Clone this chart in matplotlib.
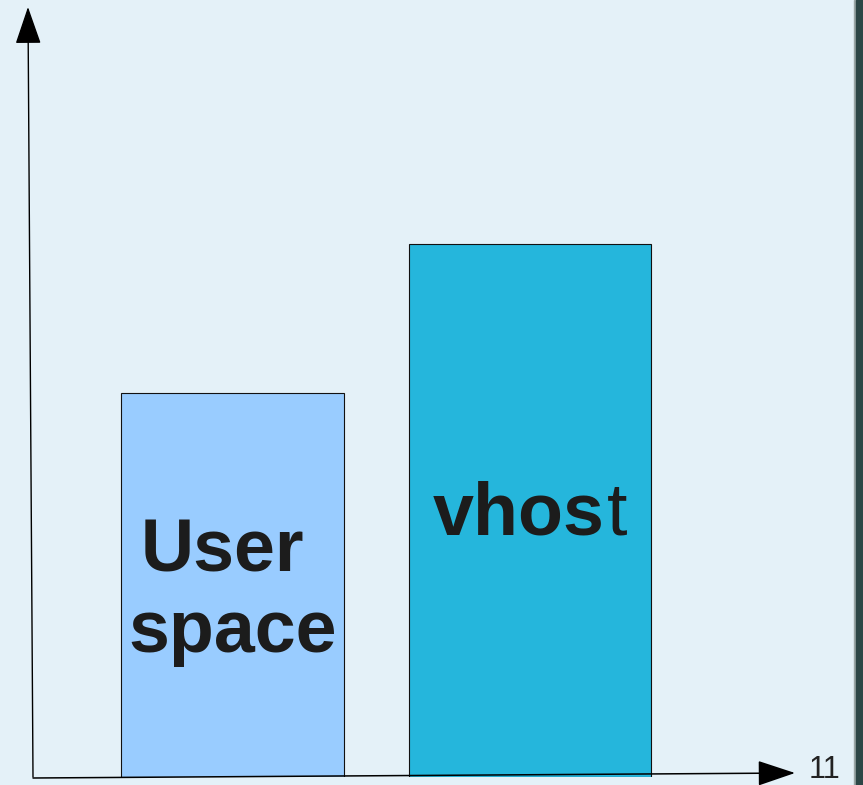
import matplotlib
matplotlib.use("Agg")
import matplotlib.pyplot as plt
from matplotlib.patches import Rectangle, ArrowStyle

# ---- data ----
categories = ["User\nspace", "vhost"]
values = [49.9, 69.2]
x_tick_label = "11"

# ---- style / layout ----
W, H, DPI = 863, 785, 100
bg = "#E4F1F8"
bar_colors = ["#99CCFF", "#25B6DC"]
text_color = "#1C1C1C"
centers = [26.18, 65.22]
widths = [29.27, 31.76]

fig = plt.figure(figsize=(W / DPI, H / DPI), dpi=DPI, facecolor=bg)
ax = fig.add_axes([33 / W, 8 / H, 762 / W, 770 / H])
ax.set_facecolor(bg)
ax.set_xlim(0, 100)
ax.set_ylim(0, 100)
for s in ax.spines.values():
    s.set_visible(False)
ax.set_xticks([])
ax.set_yticks([])

ax.bar(centers, values, width=widths, color=bar_colors, edgecolor="#111111",
       linewidth=0.8, zorder=2)

# axes arrows
ms = 20
head = ArrowStyle("-|>", head_length=1.19, head_width=0.41)
ax.annotate("", xy=(-0.0066, 1.0), xytext=(0.0, 0.0), xycoords="axes fraction",
            arrowprops=dict(arrowstyle=head, mutation_scale=ms, color="black",
                            lw=1.0, shrinkA=0, shrinkB=0), annotation_clip=False)
head2 = ArrowStyle("-|>", head_length=1.19, head_width=0.40)
ax.annotate("", xy=(1.0, 0.0052), xytext=(0.0, -0.0013), xycoords="axes fraction",
            arrowprops=dict(arrowstyle=head2, mutation_scale=ms, color="black",
                            lw=1.1, shrinkA=0, shrinkB=0), annotation_clip=False)

# tick label at the end of x axis
ax.annotate(x_tick_label, xy=(1.0, 0.0), xycoords="axes fraction",
            xytext=(10, -0.5), textcoords="offset points", ha="left", va="baseline",
            fontsize=22, color="#222222", family="Liberation Sans",
            annotation_clip=False)

# bar labels
fs = 53
# User space (two lines)
line1, line2 = categories[0].split("\n")
ax.annotate(line1, xy=(centers[0], 26.75), xytext=(-7, 0), textcoords="offset points",
            ha="center", va="baseline", fontsize=fs, fontweight="bold",
            family="Liberation Sans", color=text_color, zorder=3)
ax.text(centers[0], 16.2, line2, ha="center", va="baseline", fontsize=fs,
        fontweight="bold", family="Liberation Sans", color=text_color, zorder=3)

# vhost: "vhos" bold, "t" regular
lbl = categories[1]
t_main = ax.annotate(lbl[:-1], xy=(centers[1], 31.43), xytext=(-8, 0),
                     textcoords="offset points", ha="center", va="baseline",
                     fontsize=fs, fontweight="bold", family="Liberation Sans",
                     color=text_color, zorder=3)
ax.annotate(lbl[-1], xy=(1.0, 31.43), xycoords=(t_main, "data"),
            xytext=(1.5, 0), textcoords="offset points",
            ha="left", va="baseline", fontsize=fs, fontweight="normal",
            family="Liberation Sans", color=text_color, zorder=3)

# dark strip at the right edge
fig.patches.append(Rectangle((854 / W, 0), 1.5 / W, 1, transform=fig.transFigure,
                             color="#9AA6A6", zorder=0))
fig.patches.append(Rectangle((855.5 / W, 0), (W - 855.5) / W, 1,
                             transform=fig.transFigure, color="#2C4646", zorder=0))

fig.savefig("out.png", dpi=DPI, facecolor=bg)
